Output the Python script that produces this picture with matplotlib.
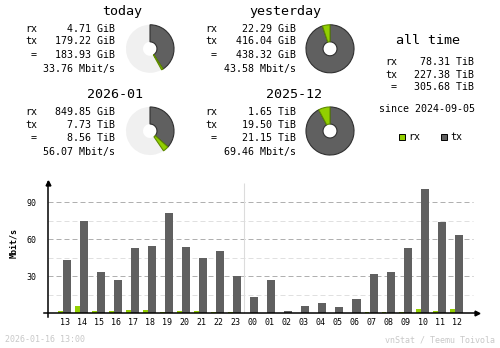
import matplotlib
matplotlib.use("Agg")
import matplotlib.pyplot as plt
from matplotlib.patches import Rectangle
import numpy as np

# ---- data -------------------------------------------------------------
periods = ["today", "yesterday", "2026-01", "2025-12"]
period_rx = [4.71, 22.29, 849.85, 1.65]
period_tx = [179.22, 416.04, 7.73, 19.50]
period_total = [183.93, 438.32, 8.56, 21.15]
rx_units = ["GiB", "GiB", "GiB", "TiB"]
tx_units = ["GiB", "GiB", "TiB", "TiB"]
total_units = ["GiB", "GiB", "TiB", "TiB"]
period_rate = [33.76, 43.58, 56.07, 69.46]
# each pie is scaled against the previous complete period
pie_reference = [1, 1, 3, 3]

alltime_rx = 78.31
alltime_tx = 227.38
alltime_total = 305.68
alltime_unit = "TiB"
since_date = "2024-09-05"

hours = ["13", "14", "15", "16", "17", "18", "19", "20", "21", "22", "23",
         "00", "01", "02", "03", "04", "05", "06", "07", "08", "09", "10",
         "11", "12"]
hour_rx = [1.9, 5.9, 1.9, 1.9, 2.7, 2.7, 1.1, 1.9, 1.9, 1.1, 1.1,
           0.0, 0.0, 0.0, 0.0, 0.0, 0.0, 0.0, 1.1, 1.1, 1.1, 3.5,
           1.9, 3.5]
hour_tx = [43.2, 74.9, 33.5, 27.0, 53.0, 54.6, 81.4, 53.8, 44.9, 50.5, 30.3,
           13.2, 27.0, 1.9, 5.9, 8.4, 5.1, 11.6, 31.9, 33.5, 53.0, 100.8,
           74.1, 63.5]
y_ticks = [30, 60, 90]
y_minor = [15, 45, 75]
timestamp = "2026-01-16 13:00"
credit = "vnStat / Teemu Toivola"

# ---- style ------------------------------------------------------------
W, H, DPI = 500, 348, 100
RX = "#92CF00"
RX_DARK = "#5E8A00"
TX = "#606060"
TX_DARK = "#303030"
PIE_BG = "#F0F0F0"
MONO = "DejaVu Sans Mono"
UNIT_SCALE = {"GiB": 1.0, "TiB": 1024.0}

fig = plt.figure(figsize=(W / DPI, H / DPI), dpi=DPI, facecolor="white")


def fx(x):
    return x / W


def fy(y):
    return 1 - y / H


def put(x, y, s, size=7.2, ha="left", color="black", **kw):
    fig.text(fx(x), fy(y), s, ha=ha, va="center", fontsize=size,
             family=MONO, color=color, **kw)


# ---- period summaries --------------------------------------------------
title_pos = [(122, 11.5), (285.5, 11.5), (114.5, 94.5), (294, 94.5)]
label_x = [25, 205, 25, 205]
value_x = [115, 295.5, 115, 295.5]
row_y = [[29, 41.5, 54.5, 69], [29, 41.5, 54.5, 69],
         [112, 124.5, 137.5, 152], [112, 124.5, 137.5, 152]]
pie_center = [(150, 48.8), (330, 48.8), (150, 131), (330, 131)]
pie_r = 24.5

for i, name in enumerate(periods):
    tx_, ty_ = title_pos[i]
    put(tx_, ty_, name, size=9.6, ha="center")
    rows = row_y[i]
    put(label_x[i], rows[0], "rx")
    put(label_x[i], rows[1], "tx")
    put(label_x[i], rows[2], " =")
    put(value_x[i], rows[0], f"{period_rx[i]:.2f} {rx_units[i]}", ha="right")
    put(value_x[i], rows[1], f"{period_tx[i]:.2f} {tx_units[i]}", ha="right")
    put(value_x[i], rows[2], f"{period_total[i]:.2f} {total_units[i]}", ha="right")
    put(value_x[i], rows[3], f"{period_rate[i]:.2f} Mbit/s", ha="right")

    # donut: tx then rx clockwise from 12 o'clock, rest of the reference in grey
    ref = pie_reference[i]
    ref_total = period_total[ref] * UNIT_SCALE[total_units[ref]]
    rx_v = period_rx[i] * UNIT_SCALE[rx_units[i]]
    tx_v = period_tx[i] * UNIT_SCALE[tx_units[i]]
    tot_v = period_total[i] * UNIT_SCALE[total_units[i]]
    rest = max(ref_total - tot_v, 0.0)
    cx, cy = pie_center[i]
    pax = fig.add_axes([fx(cx - pie_r), fy(cy + pie_r),
                        2 * pie_r / W, 2 * pie_r / H])
    wedges, _ = pax.pie([tx_v, rx_v, rest], colors=[TX, RX, PIE_BG],
                        startangle=90, counterclock=False,
                        wedgeprops=dict(width=0.71, linewidth=0.8))
    wedges[0].set_edgecolor(TX_DARK)
    wedges[1].set_edgecolor(RX_DARK)
    wedges[2].set_edgecolor("none")
    wedges[2].set_zorder(0)
    pax.set_xlim(-1.02, 1.02)
    pax.set_ylim(-1.02, 1.02)
    pax.axis("off")

# ---- all time ------------------------------------------------------------
put(428.5, 40, "all time", size=9.6, ha="center")
put(385, 62, "rx")
put(385, 74.5, "tx")
put(385, 87.5, " =")
put(474, 62, f"{alltime_rx:.2f} {alltime_unit}", ha="right")
put(474, 74.5, f"{alltime_tx:.2f} {alltime_unit}", ha="right")
put(474, 87.5, f"{alltime_total:.2f} {alltime_unit}", ha="right")
put(427, 108.5, f"since {since_date}", ha="center")

# legend squares
for x0, col, lab in [(399, RX, "rx"), (441, TX, "tx")]:
    fig.add_artist(Rectangle((fx(x0), fy(139.8)), 5.5 / W, 5.5 / H,
                             transform=fig.transFigure, facecolor=col,
                             edgecolor="black", linewidth=0.7))
    put(x0 + 9, 137, lab)

# ---- hourly bar chart ------------------------------------------------------
left_px, right_px, top_px, bot_px = 44, 478, 181, 317
x0_px, step_px = 65.2, 17.03
zero_px, unit_px = 313.3, 1.2333
ax = fig.add_axes([fx(left_px), fy(bot_px), (right_px - left_px) / W,
                   (bot_px - top_px) / H])
ax.set_xlim((left_px - x0_px) / step_px, (right_px - x0_px) / step_px)
ax.set_ylim(-(bot_px - zero_px) / unit_px, (zero_px - top_px) / unit_px)
for s in ax.spines.values():
    s.set_visible(False)
ax.patch.set_visible(False)

x = np.arange(len(hours))
yaxis_x = (48.3 - x0_px) / step_px
grid_end = (472.7 - x0_px) / step_px

ax.hlines(y_minor, yaxis_x, grid_end, colors="#E0E0E0",
          linestyles=(0, (5, 3)), linewidth=0.72, zorder=1)
ax.hlines(y_ticks, yaxis_x, grid_end, colors="#B0B0B0",
          linestyles=(0, (5, 3)), linewidth=0.72, zorder=1)
ax.vlines(10.5, 0, 105.8, colors="#DCDCDC", linewidth=0.8, zorder=1)

ax.bar(x - 0.28, hour_rx, width=0.29, color=RX, linewidth=0, zorder=2)
ax.bar(x + 0.105, hour_tx, width=0.47, color=TX, linewidth=0, zorder=2)

ylo, yhi = ax.get_ylim()
xlo, xhi = ax.get_xlim()
ax.plot([yaxis_x, yaxis_x], [ylo, yhi - 1.0], color="black", lw=1.1,
        clip_on=False, zorder=3)
ax.plot([yaxis_x], [yhi - 1.5], marker="^", color="black", markersize=3.5,
        clip_on=False, zorder=3)
ax.plot([xlo, xhi - 0.05], [0, 0], color="black", lw=1.1,
        clip_on=False, zorder=3)
ax.plot([xhi - 0.08], [0], marker=">", color="black", markersize=3.5,
        clip_on=False, zorder=3)

ax.set_yticks(y_ticks)
ax.set_yticklabels([str(v) for v in y_ticks], family=MONO, fontsize=6)
ax.set_xticks(x)
ax.set_xticklabels(hours, family=MONO, fontsize=6)
ax.tick_params(axis="y", length=0, pad=5.3)
ax.tick_params(axis="x", length=0, pad=1.0)

fig.text(fx(14), fy(243), "Mbit/s", rotation=90, ha="center", va="center",
         fontsize=6, family=MONO, weight="bold")

put(5, 340, timestamp, size=6, color="#C8C8C8")
put(495, 340, credit, size=6, ha="right", color="#C8C8C8")

fig.savefig("out.png", dpi=DPI, facecolor="white")
